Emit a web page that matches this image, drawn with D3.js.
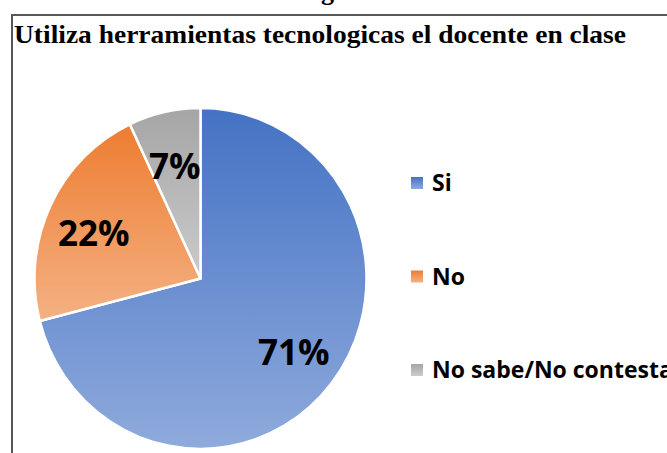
<!DOCTYPE html>
<html>
<head>
<meta charset="utf-8">
<script src="https://cdn.jsdelivr.net/npm/d3@7"></script>
<style>
  html, body { margin: 0; padding: 0; background: #fff; overflow: hidden; }
</style>
</head>
<body>
<div class="main"></div>
<script>
  //Data
  const categories = ['Si', 'No', 'No sabe/No contesta'];
  const values = [71, 22, 7];
  const valueLabels = ['71%', '22%', '7%'];
  const title = 'Utiliza herramientas tecnologicas el docente en clase';

  //Variables
  const width = 667,
        height = 453,
        cx = 200.5,
        cy = 278.5,
        radius = 166,
        yStretch = 1.027,
        labelRadius = 118;

  const gradColors = [
    ['#4472C4', '#8FAADC'],
    ['#ED7D31', '#F4B183'],
    ['#A5A5A5', '#CBCBCB']
  ];

  //Create Canvas
  const svg = d3.select('.main')
                .append('svg')
                .attr('width', width)
                .attr('height', height)
                .style('display', 'block');

  //Gradients
  const defs = svg.append('defs');
  gradColors.forEach((c, i) => {
    const g = defs.append('linearGradient')
                  .attr('id', 'grad' + i)
                  .attr('x1', 0).attr('y1', 0)
                  .attr('x2', 0).attr('y2', 1);
    g.append('stop').attr('offset', '0%').attr('stop-color', c[0]);
    g.append('stop').attr('offset', '100%').attr('stop-color', c[1]);
  });

  //Caption above the frame, cut off by the page edge (only the g tail shows)
  svg.append('text')
     .attr('x', 298)
     .attr('y', 0)
     .style('font-family', '"Liberation Serif", "Times New Roman", serif')
     .style('font-weight', 'bold')
     .style('font-size', '26px')
     .text('Figura');

  //Frame
  svg.append('path')
     .attr('d', `M12,${height + 5} L12,15 L${width + 5},15`)
     .attr('fill', 'none')
     .attr('stroke', '#585858')
     .attr('stroke-width', 2);

  //Title
  svg.append('text')
     .attr('x', 14)
     .attr('y', 43)
     .attr('textLength', 612)
     .attr('lengthAdjust', 'spacingAndGlyphs')
     .style('font-family', '"Liberation Serif", "Times New Roman", serif')
     .style('font-weight', 'bold')
     .style('font-size', '25px')
     .style('fill', '#000')
     .text(title);

  //Pie
  const pie = d3.pie().sort(null).value(d => d);
  const arcs = pie(values);
  const arc = d3.arc().innerRadius(0).outerRadius(radius);
  const labelArc = d3.arc().innerRadius(labelRadius).outerRadius(labelRadius);

  const g = svg.append('g')
               .attr('transform', `translate(${cx}, ${cy}) scale(1, ${yStretch})`);

  g.selectAll('path')
   .data(arcs)
   .enter()
   .append('path')
   .attr('d', arc)
   .attr('fill', (d, i) => `url(#grad${i})`)
   .attr('stroke', '#fff')
   .attr('stroke-width', 2.5)
   .attr('stroke-linejoin', 'round');

  //Slice labels
  svg.selectAll('.slice-label')
     .data(arcs)
     .enter()
     .append('text')
     .attr('class', 'slice-label')
     .attr('x', d => cx + labelArc.centroid(d)[0])
     .attr('y', d => cy + labelArc.centroid(d)[1] * yStretch + (d.index === 0 ? 0 : 6))
     .attr('dy', '0.36em')
     .attr('text-anchor', 'middle')
     .style('font-family', '"Open Sans", "Noto Sans", sans-serif')
     .style('font-weight', 'bold')
     .style('font-size', '35px')
     .style('fill', '#000')
     .text((d, i) => valueLabels[i]);

  //Legend
  const legendY = d3.scalePoint()
                    .domain(categories)
                    .range([183, 370]);

  const legend = svg.selectAll('.legend')
                    .data(categories)
                    .enter()
                    .append('g')
                    .attr('class', 'legend')
                    .attr('transform', d => `translate(411, ${legendY(d)})`);

  legend.append('rect')
        .attr('x', 0)
        .attr('y', -6)
        .attr('width', 12)
        .attr('height', 12)
        .attr('fill', (d, i) => `url(#grad${i})`);

  legend.append('text')
        .attr('x', 21)
        .attr('y', 0)
        .attr('dy', '0.36em')
        .style('font-family', '"Open Sans", "Noto Sans", sans-serif')
        .style('font-weight', 'bold')
        .style('font-size', '23px')
        .style('fill', '#000')
        .text(d => d);
</script>
</body>
</html>
